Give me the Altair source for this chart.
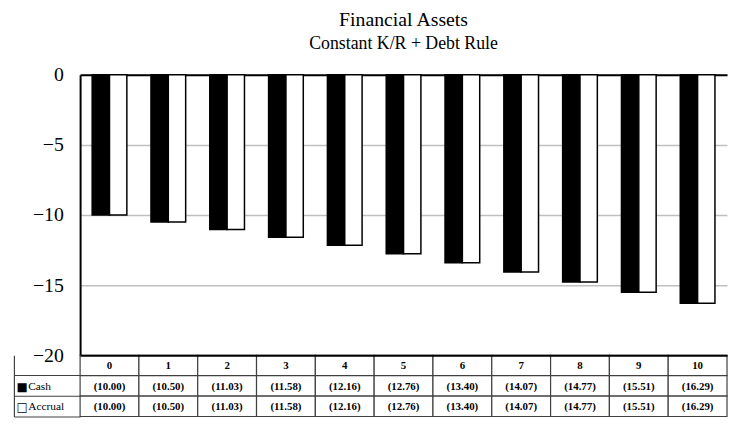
import altair as alt
import pandas as pd

# ---- data ----
years = [str(i) for i in range(11)]
cash = [-10.00, -10.50, -11.03, -11.58, -12.16, -12.76, -13.40, -14.07, -14.77, -15.51, -16.29]
accrual = [-10.00, -10.50, -11.03, -11.58, -12.16, -12.76, -13.40, -14.07, -14.77, -15.51, -16.29]
series = ["Cash", "Accrual"]
row_keys = ["hdr", "Cash", "Accrual"]
row_names = ["", "Cash", "Accrual"]
row_keys_sym = ["", "\u25a0", "\u25a1"]
y_ticks = [0, -5, -10, -15, -20]
title_lines = ["Financial Assets", "Constant K/R + Debt Rule"]

FONT = "Liberation Serif"
W = 655

bars_df = pd.DataFrame({
    "year": years * 2,
    "series": ["Cash"] * len(years) + ["Accrual"] * len(years),
    "value": cash + accrual,
})

bars = alt.Chart(bars_df).mark_bar(stroke="black", strokeWidth=1.5).encode(
    x=alt.X("year:N", sort=years,
            scale=alt.Scale(paddingInner=0.41, paddingOuter=0.205),
            axis=alt.Axis(orient="top", labels=False, ticks=False, title=None,
                          domainColor="black", domainWidth=2)),
    xOffset=alt.XOffset("series:N", sort=series),
    y=alt.Y("value:Q", scale=alt.Scale(domain=[-20, 0], nice=False),
            axis=alt.Axis(values=y_ticks, title=None, ticks=False, labelPadding=17,
                          labelFontSize=20, labelFont=FONT, labelColor="black",
                          gridColor="#c0c0c0", gridWidth=1.5,
                          domainColor="black", domainWidth=2)),
    color=alt.Color("series:N", scale=alt.Scale(domain=series, range=["black", "white"]),
                    legend=None),
).properties(
    width=W, height=284,
    title=alt.Title(title_lines[0], subtitle=title_lines[1], font=FONT, fontSize=20,
                    fontWeight="normal", color="black", subtitleFont=FONT,
                    subtitleFontSize=18, subtitleColor="black", subtitlePadding=5,
                    offset=12),
)

# ---- table ----
recs = []
for i, y in enumerate(years):
    recs.append({"year": y, "row": "hdr", "label": y})
    recs.append({"year": y, "row": "Cash", "label": f"({-cash[i]:.2f})"})
    recs.append({"year": y, "row": "Accrual", "label": f"({-accrual[i]:.2f})"})
tbl_df = pd.DataFrame(recs)


def make_expr(labels):
    parts = [f"datum.value == '{k}' ? '{l}'" for k, l in zip(row_keys[:-1], labels[:-1])]
    return " : ".join(parts + [f"'{labels[-1]}'"])


xt = alt.X("year:N", sort=years, scale=alt.Scale(paddingInner=0, paddingOuter=0),
           axis=alt.Axis(orient="top", labels=False, ticks=False, title=None,
                         domainColor="black", domainWidth=2, zindex=1))
row_scale = alt.Scale(paddingInner=0, paddingOuter=0)

base = alt.Chart(tbl_df).encode(
    x=xt,
    y=alt.Y("row:N", sort=row_keys, scale=row_scale,
            axis=alt.Axis(title=None, labelExpr=make_expr(row_names), labelAlign="left",
                          tickSize=67, bandPosition=1, labelPadding=-14, labelOffset=1,
                          tickColor="#404040", tickWidth=1.2, domain=False,
                          labelFont=FONT, labelFontSize=11.5, labelColor="black")),
)
cells = base.mark_rect(fill="white", stroke="#404040", strokeWidth=1.2)
texts = base.mark_text(font=FONT, fontSize=11, fontWeight="bold", color="black",
                       dy=1).encode(text="label:N")
border = alt.Chart(tbl_df).mark_rect(opacity=0).encode(
    x=xt,
    y=alt.Y("row:N", sort=row_keys, scale=row_scale,
            axis=alt.Axis(title=None, orient="left", labels=True, ticks=False,
                          labelExpr=make_expr(row_keys_sym), labelAlign="left",
                          labelPadding=-2, labelFont="DejaVu Sans", labelFontSize=12,
                          labelColor="black", labelOffset=1,
                          domain=True, domainColor="#404040", domainWidth=1.2,
                          offset=67)),
)
table = alt.layer(alt.layer(cells, texts), border).resolve_scale(y="independent").properties(
    width=W, height=62)

chart = alt.vconcat(bars, table, spacing=0, bounds="flush").properties(
    padding={"left": 5, "right": 0, "top": 0, "bottom": 5}
).configure_view(stroke=None)

chart.save("out.html", embed_options={"renderer": "svg", "actions": False})
